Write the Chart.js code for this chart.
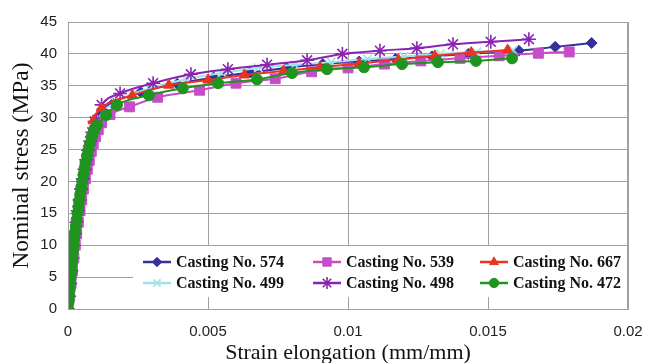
<!DOCTYPE html>
<html>
<head>
<meta charset="utf-8">
<script src="https://cdn.jsdelivr.net/npm/chart.js@4/dist/chart.umd.min.js"></script>
<style>
  html, body { margin: 0; padding: 0; background: #fff; }
  #wrap { width: 645px; height: 363px; }
</style>
</head>
<body>
<div id="wrap"><canvas id="chart" width="645" height="363"></canvas></div>
<script>
// series names; Chart.js paints the first dataset on top, so green 472 comes first
const seriesNames = ["Casting No. 472", "Casting No. 667", "Casting No. 498", "Casting No. 539", "Casting No. 499", "Casting No. 574"];
// legend reading order (3 columns x 2 rows)
const legendOrder = ["Casting No. 574", "Casting No. 539", "Casting No. 667", "Casting No. 499", "Casting No. 498", "Casting No. 472"];

const xTickLabels = ["0", "0.005", "0.01", "0.015", "0.02"];
const yTickLabels = ["0", "5", "10", "15", "20", "25", "30", "35", "40", "45"];

// strain (mm/mm) and nominal stress (MPa)
const strain574 = [0, 0.00004, 0.00008, 0.00012, 0.00016, 0.0002, 0.00025, 0.0003, 0.00036, 0.00042, 0.00048, 0.00054, 0.0006, 0.00066, 0.00073, 0.0008, 0.00088, 0.00098, 0.0011, 0.0016, 0.0026, 0.0039, 0.0052, 0.0065, 0.0078, 0.0091, 0.0104, 0.0117, 0.013, 0.0143, 0.0161, 0.0174, 0.0187];
const stress574 = [0, 2, 4, 6, 8, 10, 11.8, 13.6, 15.4, 17.1, 18.8, 20.4, 21.9, 23.3, 24.7, 26, 27.3, 28.6, 30.3, 32.2, 34, 35.3, 36.3, 37.1, 37.8, 38.4, 38.8, 39.2, 39.6, 40, 40.5, 41.1, 41.7];

const strain499 = [0, 0.00004, 0.00008, 0.00012, 0.00016, 0.0002, 0.00025, 0.0003, 0.00036, 0.00042, 0.00048, 0.00054, 0.0006, 0.00066, 0.00073, 0.0008, 0.00088, 0.00098, 0.0011, 0.0017, 0.0029, 0.0042, 0.0055, 0.0068, 0.0081, 0.0094, 0.0107, 0.012, 0.0133, 0.0146, 0.0159];
const stress499 = [0, 2, 4, 6, 8, 10, 11.8, 13.6, 15.4, 17.1, 18.8, 20.4, 21.9, 23.3, 24.7, 26, 27.3, 28.5, 30, 32.4, 34.6, 36, 37, 37.8, 38.3, 38.7, 39.2, 39.6, 40, 40.3, 40.6];

const strain539 = [0, 0.00006, 0.00011, 0.00016, 0.00021, 0.00026, 0.00031, 0.00037, 0.00043, 0.00049, 0.00055, 0.00062, 0.00069, 0.00076, 0.00083, 0.0009, 0.00098, 0.00108, 0.0012, 0.0015, 0.0022, 0.0032, 0.0047, 0.006, 0.0074, 0.0087, 0.01, 0.0113, 0.0126, 0.014, 0.0154, 0.0168, 0.0179];
const stress539 = [0, 2, 4, 6, 8, 10, 11.8, 13.6, 15.4, 17.1, 18.8, 20.4, 21.9, 23.3, 24.7, 25.9, 27, 28.1, 29.2, 30.5, 31.7, 33.2, 34.3, 35.4, 36.1, 37.2, 37.8, 38.4, 38.9, 39.3, 39.7, 40.1, 40.3];

const strain498 = [0, 0.00004, 0.00008, 0.00012, 0.00016, 0.0002, 0.00025, 0.0003, 0.00035, 0.00041, 0.00047, 0.00053, 0.00059, 0.00065, 0.00072, 0.00079, 0.00087, 0.00095, 0.0012, 0.00186, 0.00304, 0.00439, 0.00571, 0.00711, 0.00854, 0.0098, 0.01114, 0.01246, 0.01375, 0.0151, 0.01646];
const stress498 = [0, 2, 4, 6, 8, 10, 11.8, 13.6, 15.4, 17.1, 18.8, 20.4, 21.9, 23.4, 24.9, 26.3, 27.7, 29.4, 32, 33.8, 35.4, 36.8, 37.6, 38.3, 39, 40, 40.5, 40.9, 41.5, 41.9, 42.3];

const strain667 = [0, 0.00003, 0.00006, 0.0001, 0.00014, 0.00018, 0.00022, 0.00027, 0.00032, 0.00038, 0.00044, 0.0005, 0.00056, 0.00062, 0.00069, 0.00076, 0.00083, 0.0009, 0.0012, 0.0023, 0.0036, 0.005, 0.0063, 0.0077, 0.009, 0.0104, 0.0118, 0.0131, 0.0144, 0.0157];
const stress667 = [0, 2, 4, 6, 8, 10, 11.8, 13.6, 15.4, 17.1, 18.8, 20.4, 21.9, 23.4, 24.8, 26.2, 27.6, 29.5, 31.5, 33.5, 35.1, 35.9, 36.7, 37.3, 37.9, 38.5, 39.1, 39.7, 40.2, 40.6];

const strain472 = [0, 0.00002, 0.00004, 0.00006, 0.00008, 0.0001, 0.00012, 0.00014, 0.00016, 0.00018, 0.0002, 0.00023, 0.00025, 0.00028, 0.00031, 0.00034, 0.00037, 0.0004, 0.00044, 0.00047, 0.00051, 0.00055, 0.00059, 0.00063, 0.00068, 0.00073, 0.00079, 0.00085, 0.00092, 0.00104, 0.00136, 0.00175, 0.00289, 0.0041, 0.00536, 0.00675, 0.008, 0.00925, 0.01057, 0.01193, 0.01321, 0.01457, 0.01586];
const stress472 = [0, 1, 2, 3, 4, 5, 6, 7, 8, 9, 10, 11, 12, 13, 14, 15, 16, 17, 18, 19, 20, 21, 22, 23, 24, 25, 26, 27, 27.9, 28.8, 30.4, 32, 33.5, 34.6, 35.4, 36, 37, 37.6, 37.9, 38.4, 38.7, 38.9, 39.3];

function pts(xs, ys) {
    return xs.map((x, i) => ({ x: x, y: ys[i] }));
}

const styles = {
    "Casting No. 574": { color: "#35309a", marker: "rectRot", radius: 5.5, data: pts(strain574, stress574) },
    "Casting No. 499": { color: "#9fe3e6", marker: "crossRot", radius: 6, data: pts(strain499, stress499) },
    "Casting No. 539": { color: "#c54ec8", marker: "rect", radius: 7, data: pts(strain539, stress539) },
    "Casting No. 498": { color: "#8a24b0", marker: "star", radius: 7, data: pts(strain498, stress498) },
    "Casting No. 667": { color: "#ea3320", marker: "triangle", radius: 6, data: pts(strain667, stress667) },
    "Casting No. 472": { color: "#1f951f", marker: "circle", radius: 5.5, data: pts(strain472, stress472) }
};

const datasets = seriesNames.map(name => {
    const s = styles[name];
    const stroked = s.marker === "star" || s.marker === "crossRot";
    return {
        label: name,
        data: s.data,
        borderColor: s.color,
        backgroundColor: s.color,
        borderWidth: 2,
        pointStyle: s.marker,
        pointRadius: s.radius,
        pointBorderWidth: stroked ? 1.6 : 1,
        pointBackgroundColor: s.color,
        pointBorderColor: s.color,
        cubicInterpolationMode: "monotone",
        fill: false
    };
});

// legend drawn inside the plot, 3 columns x 2 rows, on a white box
const insideLegend = {
    id: "insideLegend",
    afterDatasetsDraw(chart) {
        const ctx = chart.ctx;
        const a = chart.chartArea;
        ctx.save();
        ctx.fillStyle = "#ffffff";
        ctx.fillRect(a.left + 65, a.bottom - 63, a.right - a.left - 65, 51);
        const colX = [a.left + 75, a.left + 245, a.left + 412];
        const rowY = [a.bottom - 47, a.bottom - 26];
        ctx.font = "bold 16px 'Liberation Serif', 'Times New Roman', serif";
        ctx.textBaseline = "middle";
        legendOrder.forEach((name, i) => {
            const s = styles[name];
            const ds = datasets.find(d => d.label === name);
            const x = colX[i % 3];
            const y = rowY[Math.floor(i / 3)];
            ctx.strokeStyle = s.color;
            ctx.lineWidth = 2.5;
            ctx.beginPath();
            ctx.moveTo(x, y);
            ctx.lineTo(x + 28, y);
            ctx.stroke();
            ctx.fillStyle = s.color;
            ctx.lineWidth = ds.pointBorderWidth;
            Chart.helpers.drawPoint(ctx, { pointStyle: s.marker, radius: s.radius * 0.85, borderWidth: ds.pointBorderWidth }, x + 14, y);
            ctx.fillStyle = "#111111";
            ctx.fillText(name, x + 33, y + 1);
        });
        ctx.restore();
    }
};

new Chart(document.getElementById("chart"), {
    type: "line",
    data: { datasets: datasets },
    options: {
        responsive: false,
        animation: false,
        layout: { padding: { top: 22, right: 17, left: 0, bottom: 0 } },
        plugins: {
            legend: { display: false },
            tooltip: { enabled: false }
        },
        scales: {
            x: {
                type: "linear",
                min: 0,
                max: 0.02,
                afterFit: scale => {
                    scale.height = 54;
                    scale.paddingLeft = 0;
                    scale.paddingRight = 0;
                },
                grid: { color: "#a0a0a0", lineWidth: 1, drawTicks: false },
                border: { color: "#a0a0a0", width: 1 },
                ticks: {
                    stepSize: 0.005,
                    padding: 14,
                    color: "#222",
                    font: { family: "'Liberation Sans', Arial, sans-serif", size: 15 },
                    callback: (v, i) => xTickLabels[i]
                },
                title: {
                    display: true,
                    text: "Strain elongation (mm/mm)",
                    color: "#111",
                    padding: { top: 0, bottom: -1.5 },
                    font: { family: "'Liberation Serif', 'Times New Roman', serif", size: 22, lineHeight: 1 }
                }
            },
            y: {
                min: 0,
                max: 45,
                afterFit: scale => {
                    scale.width = 68;
                    scale.paddingTop = 0;
                    scale.paddingBottom = 0;
                },
                grid: { color: "#a0a0a0", lineWidth: 1, drawTicks: false },
                border: { color: "#a0a0a0", width: 1 },
                ticks: {
                    stepSize: 5,
                    padding: 11,
                    color: "#222",
                    font: { family: "'Liberation Sans', Arial, sans-serif", size: 15 },
                    callback: (v, i) => yTickLabels[i]
                },
                title: {
                    display: true,
                    text: "Nominal stress (MPa)",
                    color: "#111",
                    padding: { top: 10, bottom: 0 },
                    font: { family: "'Liberation Serif', 'Times New Roman', serif", size: 23.5, lineHeight: 1 }
                }
            }
        }
    },
    plugins: [insideLegend, {
        id: "plotBorder",
        afterDraw(chart) {
            const a = chart.chartArea;
            const ctx = chart.ctx;
            ctx.save();
            ctx.strokeStyle = "#a0a0a0";
            ctx.lineWidth = 1;
            ctx.strokeRect(a.left + 0.5, a.top + 0.5, a.right - a.left - 1, a.bottom - a.top);
            ctx.restore();
        }
    }]
});
</script>
</body>
</html>
